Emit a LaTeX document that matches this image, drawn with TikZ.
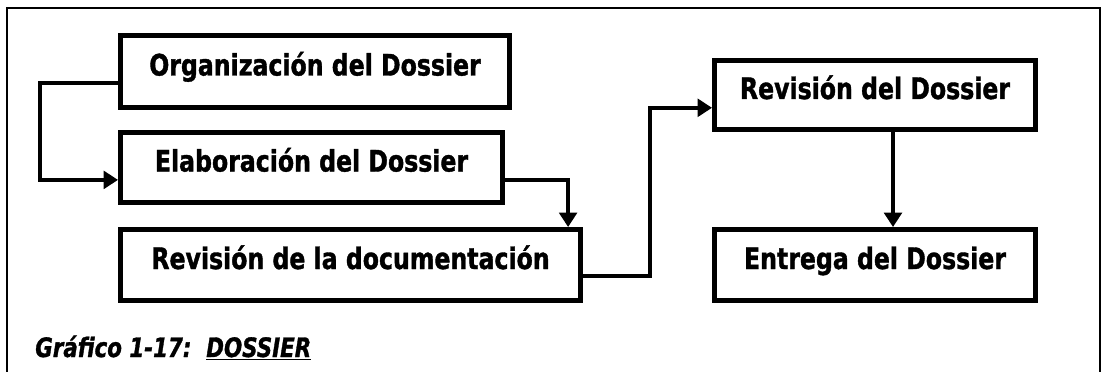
\documentclass[tikz,border=0pt]{standalone}
\usepackage{fontspec}
\usepackage{xcolor}
\usepackage{tikz}
\usetikzlibrary{arrows.meta}
\setmainfont{DejaVu Sans}[FakeStretch=0.8, FakeBold=1.2]
\definecolor{inkblack}{rgb}{0.0, 0.0, 0.0}

\begin{document}
\begin{tikzpicture}[
    % Boxes of the flow: thick black frame, bold text
    stage/.style={
        draw=inkblack,
        line width=3.5pt,
        fill=white,
        text=inkblack,
        inner sep=0pt,
        text height=0.6cm,
        text depth=0.4cm,
        font=\fontsize{21}{24}\selectfont\bfseries
    },
    % Elbow connectors with a solid triangle head
    link/.style={
        draw=inkblack,
        line width=2.8pt,
        ->,
        >={Triangle[length=0.36cm, width=0.44cm]}
    }
]
    % Page area, keeps the margins of the scan
    \useasboundingbox (0,0) rectangle (27.575,-9.3);

    % Outer frame (open at the bottom)
    \draw[line width=1.4pt, inkblack] (0.175,-9.3) -- (0.175,-0.2) -- (27.5,-0.2) -- (27.5,-9.3);

    % --- LEFT COLUMN ---
    \node(stage-org)[stage, minimum width=9.725cm, minimum height=1.8cm] at (7.875,-1.7875)
        {Organización del Dossier};
    \node(stage-elab)[stage, minimum width=9.55cm, minimum height=1.75cm] at (7.7875,-4.1875)
        {Elaboración del Dossier};
    \node(stage-revdoc)[stage, minimum width=11.5cm, minimum height=1.775cm] at (8.7625,-6.625)
        {Revisión de la documentación};

    % --- RIGHT COLUMN ---
    \node(stage-revdos)[stage, minimum width=8.025cm, minimum height=1.725cm] at (21.875,-2.375)
        {Revisión del Dossier};
    \node(stage-entrega)[stage, minimum width=8.025cm, minimum height=1.775cm] at (21.875,-6.625)
        {Entrega del Dossier};

    % --- CONNECTORS ---
    \draw[link] ([yshift=-0.29cm]stage-org.west) -- ++(-1.95cm,0) |- ([yshift=-0.31cm]stage-elab.west);
    \draw[link] ([yshift=-0.31cm]stage-elab.east) -| ([xshift=5.44cm]stage-revdoc.north);
    \draw[link] ([yshift=-0.28cm]stage-revdoc.east) -- ++(1.68cm,0) |- ([yshift=-0.32cm]stage-revdos.west);
    \draw[link] ([xshift=0.45cm]stage-revdos.south) -- ([xshift=0.45cm]stage-entrega.north);

    % Caption under the flow
    \node(caption)[anchor=base west, inner sep=0pt, text=inkblack,
        font=\fontsize{19}{22}\selectfont\bfseries\itshape] at (0.875,-8.925)
        {Gráfico 1-17:\ \ \underline{DOSSIER}};
\end{tikzpicture}
\end{document}
